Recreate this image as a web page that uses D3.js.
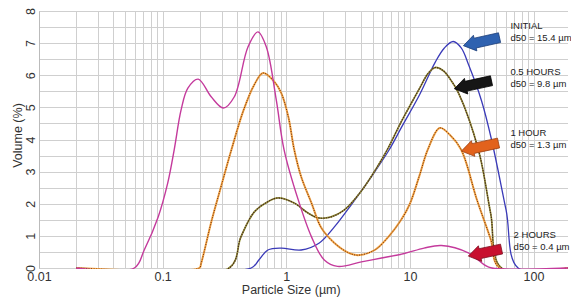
<!DOCTYPE html>
<html>
<head>
<meta charset="utf-8">
<script src="https://cdn.jsdelivr.net/npm/d3@7.9.0/dist/d3.min.js"></script>
<style>
  body { margin: 0; background: #fff; }
  svg { display: block; font-family: 'Liberation Sans', Arial, sans-serif; }
</style>
</head>
<body>
<svg id="psd"></svg>
<script>
// Particle size distributions (size in µm, volume in %)
const initialSize = [0.02, 0.52, 0.6, 0.71, 0.91, 1.32, 1.85, 2.45, 3.4, 5, 6.8, 8.5, 12, 16, 19, 22.4, 26, 30, 38, 45.7, 60, 75, 190];
const initialVol  = [0, 0, 0.25, 0.56, 0.62, 0.56, 0.78, 1.28, 2.0, 2.9, 3.68, 4.36, 5.4, 6.4, 6.85, 7.05, 6.85, 6.3, 5.2, 4.0, 1.8, 0, 0];

const halfHourSize = [0.02, 0.345, 0.43, 0.55, 0.7, 0.86, 1.16, 1.5, 1.81, 2.3, 2.95, 4.05, 5.55, 6.7, 8.5, 10, 12, 14, 16, 18.5, 21, 24.7, 35.8, 45, 55, 190];
const halfHourVol  = [0, 0, 0.97, 1.74, 2.05, 2.18, 2.02, 1.71, 1.56, 1.59, 1.81, 2.4, 3.2, 3.75, 4.55, 5.05, 5.6, 6.05, 6.24, 6.15, 5.9, 5.45, 3.68, 1.7, 0, 0];

const oneHourSize = [0.02, 0.198, 0.205, 0.25, 0.3, 0.36, 0.45, 0.55, 0.65, 0.8, 0.91, 1.04, 1.16, 1.32, 1.6, 1.92, 2.45, 3.2, 3.8, 5.2, 6.7, 8.5, 10, 12, 14, 17.4, 21, 26, 35, 45, 53, 190];
const oneHourVol  = [0, 0, 0.15, 1.5, 2.6, 3.68, 4.9, 5.7, 6.07, 5.8, 5.45, 4.7, 3.68, 2.84, 2.02, 1.25, 0.78, 0.47, 0.4, 0.56, 0.97, 1.5, 2.0, 2.9, 3.7, 4.36, 4.15, 3.68, 2.1, 0.9, 0, 0];

const twoHourSize = [0.02, 0.059, 0.071, 0.092, 0.11, 0.124, 0.141, 0.16, 0.194, 0.247, 0.31, 0.38, 0.49, 0.59, 0.69, 0.83, 0.96, 1.25, 1.6, 2.03, 2.6, 4.05, 5.9, 9, 13, 18, 29.7, 40, 46, 190];
const twoHourVol  = [0, 0, 0.56, 1.59, 2.65, 3.68, 4.92, 5.6, 5.88, 5.33, 4.98, 5.33, 6.88, 7.35, 6.88, 5.23, 3.68, 2.12, 0.97, 0.25, 0.05, 0.19, 0.31, 0.45, 0.62, 0.7, 0.47, 0.1, 0, 0];

const xTickValues = [0.01, 0.1, 1, 10, 100];
const xTickLabels = ['0.01', '0.1', '1', '10', '100'];
const yTickValues = [0, 1, 2, 3, 4, 5, 6, 7, 8];

// annotation labels + arrows (positions in data units)
const labelLines = [['INITIAL', 'd50 = 15.4 µm'], ['0.5 HOURS', 'd50 = 9.8 µm'], ['1 HOUR', 'd50 = 1.3 µm'], ['2 HOURS', 'd50 = 0.4 µm']];
const labelAt = [[65, 7.43], [65, 6.0], [65, 4.1], [69, 0.92]];
const arrowTail = [[53.1, 7.17], [45.7, 5.83], [52.1, 3.89], [55.1, 0.59]];
const arrowTip = [[27.1, 6.92], [22.9, 5.58], [26.1, 3.64], [29.7, 0.37]];
const arrowFill = ['#2f62b0', '#161616', '#e2621c', '#c8102e'];
const arrowEdge = ['#1c3d78', '#000', '#9a3e0e', '#7c0c20'];

const width = 571;
const height = 300;
const margin = { top: 11, right: 3, bottom: 32, left: 39 };

const svg = d3.select('#psd').attr('width', width).attr('height', height);

const x = d3.scaleLog()
  .domain([0.01, 190])
  .range([margin.left, width - margin.right]);

const y = d3.scaleLinear()
  .domain([0, 8])
  .range([height - margin.bottom, margin.top]);

// grid
const minor = [];
for (let e = -2; e <= 2; e++) {
  for (let k = 1; k <= 9; k++) {
    const v = k * Math.pow(10, e);
    if (v >= 0.01 && v <= 190) minor.push(v);
  }
}
const grid = svg.append('g').attr('stroke', '#cfcfcf').attr('stroke-width', 1);
grid.selectAll('line.v').data(minor).join('line')
  .attr('class', 'v')
  .attr('x1', d => Math.round(x(d)) + 0.5).attr('x2', d => Math.round(x(d)) + 0.5)
  .attr('y1', y(8)).attr('y2', y(0));
grid.selectAll('line.h').data(d3.range(0, 8.01, 0.5)).join('line')
  .attr('class', 'h')
  .attr('x1', x(0.01)).attr('x2', x(190))
  .attr('y1', d => Math.round(y(d)) + 0.5).attr('y2', d => Math.round(y(d)) + 0.5);

// axes
const xAxis = d3.axisBottom(x)
  .tickValues(xTickValues)
  .tickSize(0)
  .tickPadding(4)
  .tickFormat((d, i) => xTickLabels[i]);
const gx = svg.append('g')
  .attr('transform', `translate(0, ${y(0)})`)
  .call(xAxis);
gx.select('.domain').remove();
gx.selectAll('text').attr('font-size', 12.5).attr('fill', '#333').attr('font-family', 'Liberation Sans, Arial, sans-serif');

const yAxis = d3.axisLeft(y).tickValues(yTickValues).tickSize(0);
const gy = svg.append('g')
  .attr('transform', `translate(${margin.left}, 0)`)
  .call(yAxis);
gy.select('.domain').attr('stroke', '#bbb');
gy.selectAll('.tick text')
  .attr('x', 0).attr('dy', 0)
  .attr('transform', 'translate(-4, 0) rotate(-90)')
  .attr('text-anchor', 'middle')
  .attr('font-size', 12.5).attr('fill', '#333')
  .attr('font-family', 'Liberation Sans, Arial, sans-serif');

svg.append('text')
  .attr('x', x(1) + 5)
  .attr('y', 294)
  .attr('text-anchor', 'middle')
  .attr('font-size', 12.5).attr('fill', '#333')
  .text('Particle Size (µm)');

svg.append('text')
  .attr('transform', `translate(22, ${(y(0) + y(8)) / 2 - 4}) rotate(-90)`)
  .attr('text-anchor', 'middle')
  .attr('font-size', 12.5).attr('fill', '#333')
  .text('Volume (%)');

// curves
svg.append('clipPath').attr('id', 'clip')
  .append('rect')
  .attr('x', x(0.01)).attr('y', y(8) - 2)
  .attr('width', x(190) - x(0.01)).attr('height', y(0) - y(8) + 3);

const line = d3.line()
  .x(d => x(d[0]))
  .y(d => y(d[1]))
  .curve(d3.curveCatmullRom.alpha(0.5));

const zip = (a, b) => a.map((v, i) => [v, b[i]]);

const plot = svg.append('g').attr('clip-path', 'url(#clip)');
plot.append('path').datum(zip(initialSize, initialVol))
  .attr('d', line).attr('fill', 'none').attr('stroke', '#3a3ab8').attr('stroke-width', 1.3);

plot.append('path').datum(zip(halfHourSize, halfHourVol))
  .attr('d', line).attr('fill', 'none').attr('stroke', '#9a9a3c').attr('stroke-width', 1.7);
plot.append('path').datum(zip(halfHourSize, halfHourVol))
  .attr('d', line).attr('fill', 'none').attr('stroke', '#4a2820').attr('stroke-width', 1.2)
  .attr('stroke-dasharray', '1.5,1');

plot.append('path').datum(zip(oneHourSize, oneHourVol))
  .attr('d', line).attr('fill', 'none').attr('stroke', '#f2a444').attr('stroke-width', 2);
plot.append('path').datum(zip(oneHourSize, oneHourVol))
  .attr('d', line).attr('fill', 'none').attr('stroke', '#6a2810').attr('stroke-width', 1)
  .attr('stroke-dasharray', '1,1.5');

plot.append('path').datum(zip(twoHourSize, twoHourVol))
  .attr('d', line).attr('fill', 'none').attr('stroke', '#c43a9c').attr('stroke-width', 1.4);

// arrows
function arrowPath(t, h) {
  const x0 = x(t[0]), y0 = y(t[1]), x1 = x(h[0]), y1 = y(h[1]);
  const len = Math.hypot(x1 - x0, y1 - y0);
  const ux = (x1 - x0) / len, uy = (y1 - y0) / len;
  const nx = -uy, ny = ux;
  const bw = 5, hw = 8, hl = 12;
  const bx = x1 - ux * hl, by = y1 - uy * hl;
  const pts = [
    [x0 + nx * bw, y0 + ny * bw],
    [bx + nx * bw, by + ny * bw],
    [bx + nx * hw, by + ny * hw],
    [x1, y1],
    [bx - nx * hw, by - ny * hw],
    [bx - nx * bw, by - ny * bw],
    [x0 - nx * bw, y0 - ny * bw]
  ];
  return 'M' + pts.map(p => p.join(',')).join('L') + 'Z';
}
svg.append('g').selectAll('path').data(arrowTail).join('path')
  .attr('d', (d, i) => arrowPath(d, arrowTip[i]))
  .attr('fill', (d, i) => arrowFill[i])
  .attr('stroke', (d, i) => arrowEdge[i])
  .attr('stroke-width', 0.8);

// labels
const lab = svg.append('g').attr('font-size', 9.5).attr('fill', '#222');
labelLines.forEach((ls, i) => {
  const t = lab.append('text')
    .attr('x', x(labelAt[i][0]))
    .attr('y', y(labelAt[i][1]));
  ls.forEach((s, j) => {
    t.append('tspan').attr('x', x(labelAt[i][0])).attr('dy', j === 0 ? 0 : 12).text(s);
  });
});
</script>
</body>
</html>
